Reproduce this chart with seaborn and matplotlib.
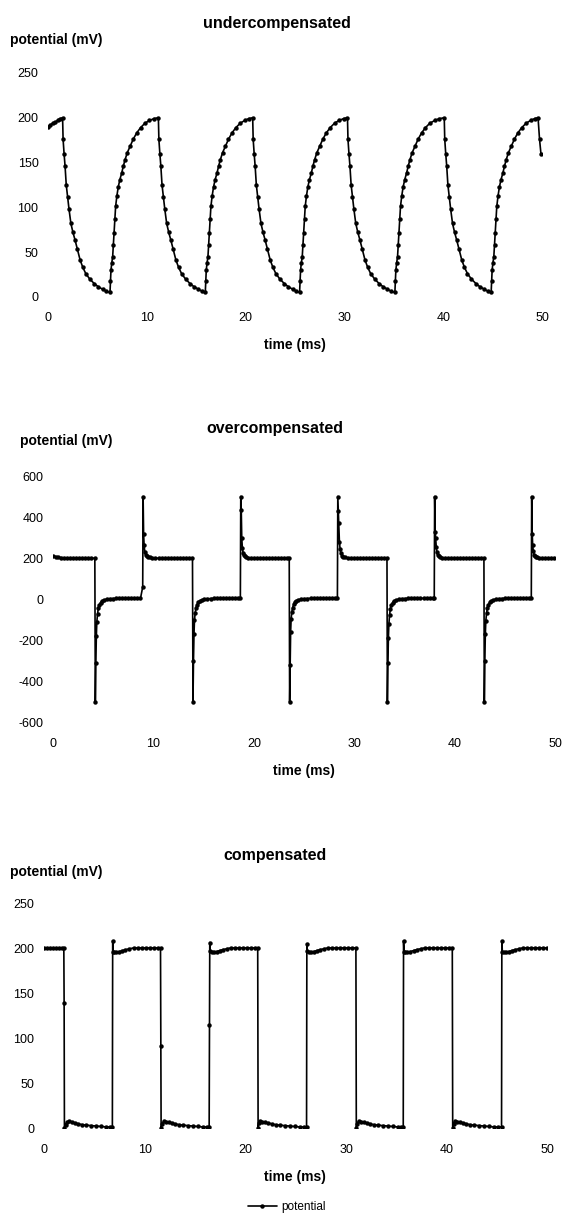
import numpy as np
import pandas as pd
import matplotlib
matplotlib.use('Agg')
import matplotlib.pyplot as plt
import seaborn as sns

# ---- data (time in ms, potential in mV) ----
under_t = [0.00, 0.20, 0.45, 0.70, 0.95, 1.20, 1.45,
           1.50, 1.60, 1.70, 1.82, 1.95, 2.10, 2.29, 2.50, 2.70, 2.95, 3.23, 3.50, 3.80, 4.20, 4.65, 5.05, 5.50, 5.85, 6.25,
           6.30, 6.35, 6.43, 6.52, 6.59, 6.66, 6.75, 6.82, 6.95, 7.09, 7.25, 7.43, 7.60, 7.77, 8.00, 8.28, 8.60, 8.95, 9.35, 9.80, 10.25, 10.70, 11.15,
           11.20, 11.30, 11.40, 11.52, 11.65, 11.80, 11.99, 12.20, 12.40, 12.65, 12.93, 13.20, 13.50, 13.90, 14.35, 14.75, 15.20, 15.55, 15.90,
           15.95, 16.00, 16.08, 16.17, 16.24, 16.31, 16.40, 16.47, 16.60, 16.74, 16.90, 17.08, 17.25, 17.42, 17.65, 17.93, 18.25, 18.60, 19.00, 19.45, 19.90, 20.30, 20.70,
           20.75, 20.85, 20.95, 21.07, 21.20, 21.35, 21.54, 21.75, 21.95, 22.20, 22.48, 22.75, 23.05, 23.45, 23.90, 24.30, 24.75, 25.10, 25.45,
           25.50, 25.55, 25.63, 25.72, 25.79, 25.86, 25.95, 26.02, 26.15, 26.29, 26.45, 26.63, 26.80, 26.97, 27.20, 27.48, 27.80, 28.15, 28.55, 29.00, 29.45, 29.90, 30.30,
           30.35, 30.45, 30.55, 30.67, 30.80, 30.95, 31.14, 31.35, 31.55, 31.80, 32.08, 32.35, 32.65, 33.05, 33.50, 33.90, 34.35, 34.70, 35.10,
           35.15, 35.20, 35.28, 35.37, 35.44, 35.51, 35.60, 35.67, 35.80, 35.94, 36.10, 36.28, 36.45, 36.62, 36.85, 37.13, 37.45, 37.80, 38.20, 38.65, 39.15, 39.60, 40.10,
           40.15, 40.25, 40.35, 40.47, 40.60, 40.75, 40.94, 41.15, 41.35, 41.60, 41.88, 42.15, 42.45, 42.85, 43.30, 43.70, 44.15, 44.50, 44.85,
           44.90, 44.95, 45.03, 45.12, 45.19, 45.26, 45.35, 45.42, 45.55, 45.69, 45.85, 46.03, 46.20, 46.37, 46.60, 46.88, 47.20, 47.55, 47.95, 48.40, 48.85, 49.25, 49.60,
           49.75, 49.90]
under_v = [190, 192, 194, 195, 197, 199, 200,
           176, 160, 146, 125, 112, 98, 82, 72, 64, 53, 41, 33, 26, 20, 15, 11.5, 8.6, 6.5, 5,
           18, 30, 38, 45, 58, 71, 87, 101, 113, 123, 131, 138, 146, 153, 161, 168, 176, 183, 189, 194, 197, 199, 200,
           176, 160, 146, 125, 112, 98, 82, 72, 64, 53, 41, 33, 26, 20, 15, 11.5, 8.6, 6.5, 5,
           18, 30, 38, 45, 58, 71, 87, 101, 113, 123, 131, 138, 146, 153, 161, 168, 176, 183, 189, 194, 197, 199, 200,
           176, 160, 146, 125, 112, 98, 82, 72, 64, 53, 41, 33, 26, 20, 15, 11.5, 8.6, 6.5, 5,
           18, 30, 38, 45, 58, 71, 87, 101, 113, 123, 131, 138, 146, 153, 161, 168, 176, 183, 189, 194, 197, 199, 200,
           176, 160, 146, 125, 112, 98, 82, 72, 64, 53, 41, 33, 26, 20, 15, 11.5, 8.6, 6.5, 5,
           18, 30, 38, 45, 58, 71, 87, 101, 113, 123, 131, 138, 146, 153, 161, 168, 176, 183, 189, 194, 197, 199, 200,
           176, 160, 146, 125, 112, 98, 82, 72, 64, 53, 41, 33, 26, 20, 15, 11.5, 8.6, 6.5, 5,
           18, 30, 38, 45, 58, 71, 87, 101, 113, 123, 131, 138, 146, 153, 161, 168, 176, 183, 189, 194, 197, 199, 200,
           176, 159]

over_t = [0.00, 0.25, 0.50, 0.80, 1.10, 1.40, 1.70, 2.00, 2.30, 2.60, 2.90, 3.20, 3.50, 3.80, 4.15,
          4.20, 4.25, 4.30, 4.35, 4.42, 4.50, 4.60, 4.72, 4.87, 5.07, 5.32, 5.62, 5.97, 6.30, 6.60, 6.90, 7.20, 7.50, 7.80, 8.10, 8.40, 8.70, 8.92,
          8.96, 9.01, 9.06, 9.13, 9.21, 9.31, 9.43, 9.63, 9.88, 10.18, 10.55, 10.85, 11.15, 11.45, 11.75, 12.05, 12.35, 12.65, 12.95, 13.25, 13.55, 13.88,
          13.93, 13.98, 14.03, 14.08, 14.15, 14.23, 14.33, 14.45, 14.60, 14.80, 15.05, 15.35, 15.70, 16.00, 16.30, 16.60, 16.90, 17.20, 17.50, 17.80, 18.10, 18.40, 18.65,
          18.69, 18.74, 18.79, 18.85, 18.92, 19.00, 19.10, 19.25, 19.45, 19.70, 20.00, 20.30, 20.60, 20.90, 21.20, 21.50, 21.80, 22.10, 22.40, 22.70, 23.00, 23.30, 23.52,
          23.56, 23.61, 23.66, 23.71, 23.78, 23.86, 23.96, 24.08, 24.23, 24.43, 24.68, 24.98, 25.33, 25.65, 25.95, 26.25, 26.55, 26.85, 27.15, 27.45, 27.75, 28.05, 28.32,
          28.36, 28.41, 28.46, 28.52, 28.59, 28.67, 28.77, 28.90, 29.10, 29.35, 29.65, 30.00, 30.30, 30.60, 30.90, 31.20, 31.50, 31.80, 32.10, 32.40, 32.70, 33.00, 33.26,
          33.30, 33.35, 33.40, 33.45, 33.52, 33.60, 33.70, 33.82, 33.97, 34.17, 34.42, 34.72, 35.07, 35.40, 35.70, 36.00, 36.30, 36.60, 36.90, 37.20, 37.50, 37.80, 37.97,
          38.01, 38.06, 38.11, 38.17, 38.24, 38.32, 38.42, 38.57, 38.77, 39.02, 39.35, 39.65, 39.95, 40.25, 40.55, 40.85, 41.15, 41.45, 41.75, 42.05, 42.35, 42.65, 42.92,
          42.96, 43.01, 43.06, 43.11, 43.18, 43.26, 43.36, 43.48, 43.63, 43.83, 44.08, 44.38, 44.73, 45.05, 45.35, 45.65, 45.95, 46.25, 46.55, 46.85, 47.15, 47.45, 47.64,
          47.68, 47.73, 47.78, 47.84, 47.91, 47.99, 48.10, 48.25, 48.45, 48.75, 49.05, 49.35, 49.65, 49.95]
over_v = [212, 208, 205, 203, 202, 201, 200, 200, 200, 200, 200, 200, 200, 200, 200,
          -500, -312, -180, -109, -70, -44, -28, -16, -8, -3, 1, 3, 4, 5, 5, 5, 5, 5, 5, 5, 5, 5, 60,
          500, 320, 262, 232, 218, 211, 207, 204, 202, 201, 200, 200, 200, 200, 200, 200, 200, 200, 200, 200, 200, 200,
          -500, -300, -170, -100, -66, -42, -26, -15, -8, -3, 1, 3, 4, 5, 5, 5, 5, 5, 5, 5, 5, 5, 5,
          500, 436, 299, 250, 226, 214, 209, 205, 203, 201, 200, 200, 200, 200, 200, 200, 200, 200, 200, 200, 200, 200, 200,
          -500, -320, -160, -95, -62, -40, -25, -14, -7, -2, 1, 3, 4, 5, 5, 5, 5, 5, 5, 5, 5, 5, 5,
          500, 430, 370, 280, 245, 225, 213, 207, 204, 202, 201, 200, 200, 200, 200, 200, 200, 200, 200, 200, 200, 200, 200,
          -500, -310, -190, -120, -75, -46, -28, -16, -8, -3, 1, 3, 4, 5, 5, 5, 5, 5, 5, 5, 5, 5, 5,
          500, 330, 300, 255, 228, 215, 209, 205, 203, 201, 200, 200, 200, 200, 200, 200, 200, 200, 200, 200, 200, 200, 200,
          -500, -300, -170, -105, -68, -43, -27, -15, -8, -3, 1, 3, 4, 5, 5, 5, 5, 5, 5, 5, 5, 5, 5,
          500, 320, 262, 235, 218, 211, 207, 204, 202, 201, 200, 200, 200, 200]

comp_t = [0.00, 0.30, 0.60, 0.90, 1.20, 1.50, 1.80, 1.98,
          2.01, 2.04, 2.15, 2.30, 2.50, 2.80, 3.10, 3.40, 3.80, 4.20, 4.70, 5.20, 5.70, 6.20, 6.60, 6.80,
          6.83, 6.88, 7.00, 7.20, 7.50, 7.80, 8.10, 8.50, 8.90, 9.30, 9.70, 10.10, 10.50, 10.90, 11.30, 11.58,
          11.61, 11.64, 11.75, 11.90, 12.10, 12.40, 12.70, 13.00, 13.40, 13.80, 14.30, 14.80, 15.30, 15.80, 16.20, 16.41,
          16.44, 16.47, 16.52, 16.65, 16.85, 17.15, 17.45, 17.75, 18.15, 18.55, 18.95, 19.35, 19.75, 20.15, 20.55, 20.95, 21.23,
          21.27, 21.35, 21.50, 21.70, 22.00, 22.30, 22.60, 23.00, 23.40, 23.90, 24.40, 24.90, 25.40, 25.80, 26.08,
          26.11, 26.16, 26.30, 26.50, 26.80, 27.10, 27.40, 27.80, 28.20, 28.60, 29.00, 29.40, 29.80, 30.20, 30.60, 30.98,
          31.02, 31.10, 31.25, 31.45, 31.75, 32.05, 32.35, 32.75, 33.15, 33.65, 34.15, 34.65, 35.15, 35.50, 35.68,
          35.71, 35.76, 35.90, 36.10, 36.40, 36.70, 37.00, 37.40, 37.80, 38.20, 38.60, 39.00, 39.40, 39.80, 40.20, 40.55,
          40.59, 40.67, 40.82, 41.02, 41.32, 41.62, 41.92, 42.32, 42.72, 43.22, 43.72, 44.22, 44.72, 45.10, 45.44,
          45.47, 45.52, 45.65, 45.85, 46.15, 46.45, 46.75, 47.15, 47.55, 47.95, 48.35, 48.75, 49.15, 49.55, 49.95]
comp_v = [201, 201, 201, 201, 201, 201, 201, 201,
          140, 0, 4, 7, 8, 7, 6, 5, 4, 3.5, 3, 2.5, 2, 1.5, 1.5, 1.5,
          209, 197, 196, 196, 197, 198, 199, 200, 201, 201, 201, 201, 201, 201, 201, 201,
          92, 0, 5, 8, 7.5, 7, 6, 5, 4, 3.5, 3, 2.5, 2, 1.5, 1.5, 1.5,
          115, 207, 198, 196, 196, 197, 198, 199, 200, 201, 201, 201, 201, 201, 201, 201, 201,
          0, 6, 8, 7, 6.5, 6, 5, 4, 3.5, 3, 2.5, 2, 1.5, 1.5, 1.5,
          205, 198, 196, 196, 197, 198, 199, 200, 201, 201, 201, 201, 201, 201, 201, 201,
          0, 5, 8, 7.5, 7, 6, 5, 4, 3.5, 3, 2.5, 2, 1.5, 1.5, 1.5,
          209, 197, 196, 196, 197, 198, 199, 200, 201, 201, 201, 201, 201, 201, 201, 201,
          0, 5, 8, 7.5, 7, 6, 5, 4, 3.5, 3, 2.5, 2, 1.5, 1.5, 1.5,
          209, 197, 196, 196, 197, 198, 199, 200, 201, 201, 201, 201, 201, 201, 201]

titles = ['undercompensated', 'overcompensated', 'compensated']
x_ticks = [0, 10, 20, 30, 40, 50]
y_ticks_small = [0, 50, 100, 150, 200, 250]
y_ticks_big = [-600, -400, -200, 0, 200, 400, 600]
y_label = 'potential (mV)'
x_label = 'time (ms)'
series_name = 'potential'


def main():
  sns.set_style('white')
  plt.rcParams['font.family'] = ['Liberation Sans', 'DejaVu Sans']
  plt.rcParams['axes.unicode_minus'] = False
  plt.rcParams['text.color'] = 'black'

  fig = plt.figure(figsize=(5.64, 12.14), dpi=100)

  boxes = [[0.0856, 0.7554, 0.8754, 0.1845],
           [0.0943, 0.4047, 0.8897, 0.2032],
           [0.0778, 0.0706, 0.8929, 0.1848]]
  series = [(under_t, under_v), (over_t, over_v), (comp_t, comp_v)]
  yticks = [y_ticks_small, y_ticks_big, y_ticks_small]

  axes = []
  for box, (t, v), yt in zip(boxes, series, yticks):
    ax = fig.add_axes(box)
    df = pd.DataFrame({'time': t, 'potential': v})
    sns.lineplot(data=df, x='time', y='potential', ax=ax, estimator=None,
                 color='black', linewidth=1.2, marker='o', markersize=3.2,
                 markeredgewidth=0, label=series_name, legend=False)
    ax.set_xlim(0, 50)
    ax.set_ylim(yt[0], yt[-1])
    ax.set_xticks(x_ticks)
    ax.set_yticks(yt)
    ax.set_xticklabels([str(x) for x in x_ticks])
    ax.set_yticklabels([str(y) for y in yt])
    ax.tick_params(axis='x', length=0, pad=11, labelsize=9, colors='black')
    ax.tick_params(axis='y', length=0, pad=7, labelsize=9, colors='black')
    ax.set_xlabel('')
    ax.set_ylabel('')
    ax.grid(False)
    for s in ax.spines.values():
      s.set_visible(False)
    axes.append(ax)

  # titles, axis labels placed like the Excel chart
  title_pos = [(0.491, 0.981), (0.4876, 0.6474), (0.4876, 0.2957)]
  ylab_pos = [(0.0177, 0.967), (0.0355, 0.6367), (0.0177, 0.2817)]
  xlab_pos = [(0.523, 0.7158), (0.539, 0.3649), (0.523, 0.0305)]
  for name, tp, yp, xp in zip(titles, title_pos, ylab_pos, xlab_pos):
    fig.text(tp[0], tp[1], name, ha='center', va='center', fontsize=11.5,
             fontweight='bold', color='black')
    fig.text(yp[0], yp[1], y_label, ha='left', va='center', fontsize=10,
             fontweight='bold', color='black')
    fig.text(xp[0], xp[1], x_label, ha='center', va='center', fontsize=10,
             fontweight='bold', color='black')

  handles, labels = axes[2].get_legend_handles_labels()
  leg = fig.legend(handles, labels, loc='center', bbox_to_anchor=(0.509, 0.0055),
                   frameon=False, fontsize=8.5, handlelength=2.4, handletextpad=0.4,
                   borderpad=0)
  for txt in leg.get_texts():
    txt.set_color('black')

  fig.savefig('out.png', dpi=100)


if __name__ == '__main__':
  main()
